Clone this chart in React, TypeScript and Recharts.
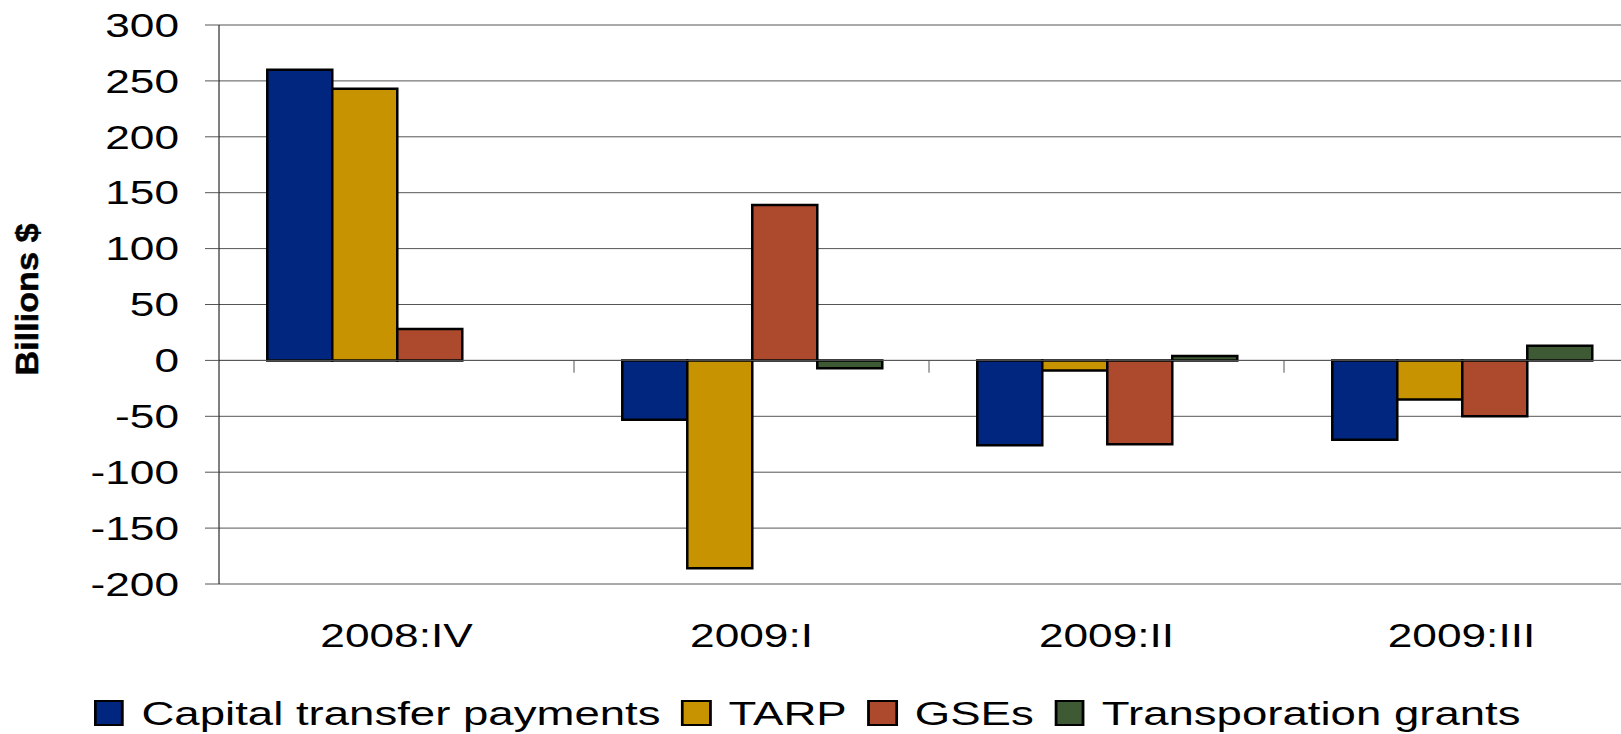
import React from 'react';
import { BarChart, Bar, XAxis, YAxis, CartesianGrid, ReferenceLine, Legend } from 'recharts';

const quarters = ['2008:IV', '2009:I', '2009:II', '2009:III'];
const capitalTransfers = [260, -53, -76, -71];
const tarp = [243, -186, -9, -35];
const gses = [28, 139, -75, -50];
const transportGrants: (number | null)[] = [null, -7, 4, 13];
const yTicks = [-200, -150, -100, -50, 0, 50, 100, 150, 200, 250, 300];

const seriesNames = ['Capital transfer payments', 'TARP', 'GSEs', 'Transporation grants'];
const seriesColors = ['#00267F', '#C79300', '#AD492D', '#3E5A34'];
const seriesKeys = ['capital', 'tarp', 'gse', 'transport'];

const data = quarters.map((q, i) => ({
  quarter: q,
  capital: capitalTransfers[i],
  tarp: tarp[i],
  gse: gses[i],
  transport: transportGrants[i],
}));

const FONT = '"Liberation Sans", Arial, Helvetica, sans-serif';
const SX = 1.34;

const YTick = (props: any) => {
  const { x, y, payload } = props;
  return (
    <text
      transform={`translate(${x},${y}) scale(${SX},1)`}
      textAnchor="end"
      dy="0.355em"
      fontSize={33}
      fontFamily={FONT}
      fill="#000"
    >
      {payload.value}
    </text>
  );
};

const XTick = (props: any) => {
  const { x, y, payload } = props;
  return (
    <text
      transform={`translate(${x},${y}) scale(${SX},1)`}
      textAnchor="middle"
      dy="0.716em"
      fontSize={33}
      fontFamily={FONT}
      fill="#000"
    >
      {payload.value}
    </text>
  );
};

const YLabel = (props: any) => {
  const vb = props.viewBox || { x: 0, y: 25, width: 219, height: 559 };
  const cx = vb.x + 26.5;
  const cy = vb.y + vb.height / 2 - 5;
  return (
    <text
      transform={`translate(${cx},${cy}) rotate(-90) scale(1.07,1)`}
      textAnchor="middle"
      dy="0.358em"
      fontSize={32}
      fontWeight="bold"
      fontFamily={FONT}
      fill="#000"
      stroke="#000"
      strokeWidth={0.5}
    >
      Billions $
    </text>
  );
};

const renderLegend = () => (
  <div style={{ height: 42, display: 'flex', justifyContent: 'center', alignItems: 'center' }}>
    <div
      style={{
        display: 'flex',
        alignItems: 'center',
        transform: `scaleX(${SX})`,
        transformOrigin: 'center',
        whiteSpace: 'nowrap',
        fontFamily: FONT,
        fontSize: 34,
        lineHeight: '34px',
        color: '#000',
      }}
    >
      {seriesNames.map((name, i) => (
        <div key={name} style={{ display: 'flex', alignItems: 'center', marginLeft: i === 0 ? 0 : 15.4 }}>
          <div
            style={{
              width: 22.4,
              height: 26,
              boxSizing: 'border-box',
              background: seriesColors[i],
              border: '2px solid #000',
              marginRight: 13,
            }}
          />
          <span>{name}</span>
        </div>
      ))}
    </div>
  </div>
);

export default function App() {
  return (
    <div
      style={{
        position: 'absolute',
        left: 0,
        top: 0,
        width: 1621,
        height: 734,
        overflow: 'hidden',
        background: '#fff',
      }}
    >
      <BarChart
        width={1640}
        height={734}
        data={data}
        margin={{ top: 25, right: 1, bottom: 0, left: 0 }}
        barCategoryGap="13.6%"
        barGap={0}
      >
        <CartesianGrid horizontal={true} vertical={false} stroke="#555" strokeWidth={1} />
        <XAxis
          dataKey="quarter"
          height={108}
          axisLine={false}
          tickLine={false}
          tickSize={0}
          tickMargin={39}
          tick={<XTick />}
          interval={0}
        />
        <YAxis
          width={219}
          domain={[-200, 300]}
          ticks={yTicks}
          interval={0}
          allowDataOverflow={true}
          axisLine={{ stroke: '#000', strokeWidth: 1 }}
          tickLine={{ stroke: '#555', strokeWidth: 1 }}
          tickSize={14}
          tickMargin={26}
          tick={<YTick />}
          label={<YLabel />}
        />
        <ReferenceLine y={0} stroke="#555" strokeWidth={1} />
        {quarters.slice(1).map((q) => (
          <ReferenceLine
            key={q}
            segment={[{ x: q, y: 0 }, { x: q, y: -11 }]}
            position="start"
            stroke="#555"
            strokeWidth={1}
          />
        ))}
        {seriesKeys.map((k, i) => (
          <Bar
            key={k}
            dataKey={k}
            name={seriesNames[i]}
            fill={seriesColors[i]}
            stroke="#000"
            strokeWidth={2.5}
            isAnimationActive={false}
          />
        ))}
        <Legend
          verticalAlign="bottom"
          content={renderLegend}
          wrapperStyle={{ left: -3, width: 1621, bottom: 0 }}
        />
      </BarChart>
    </div>
  );
}
